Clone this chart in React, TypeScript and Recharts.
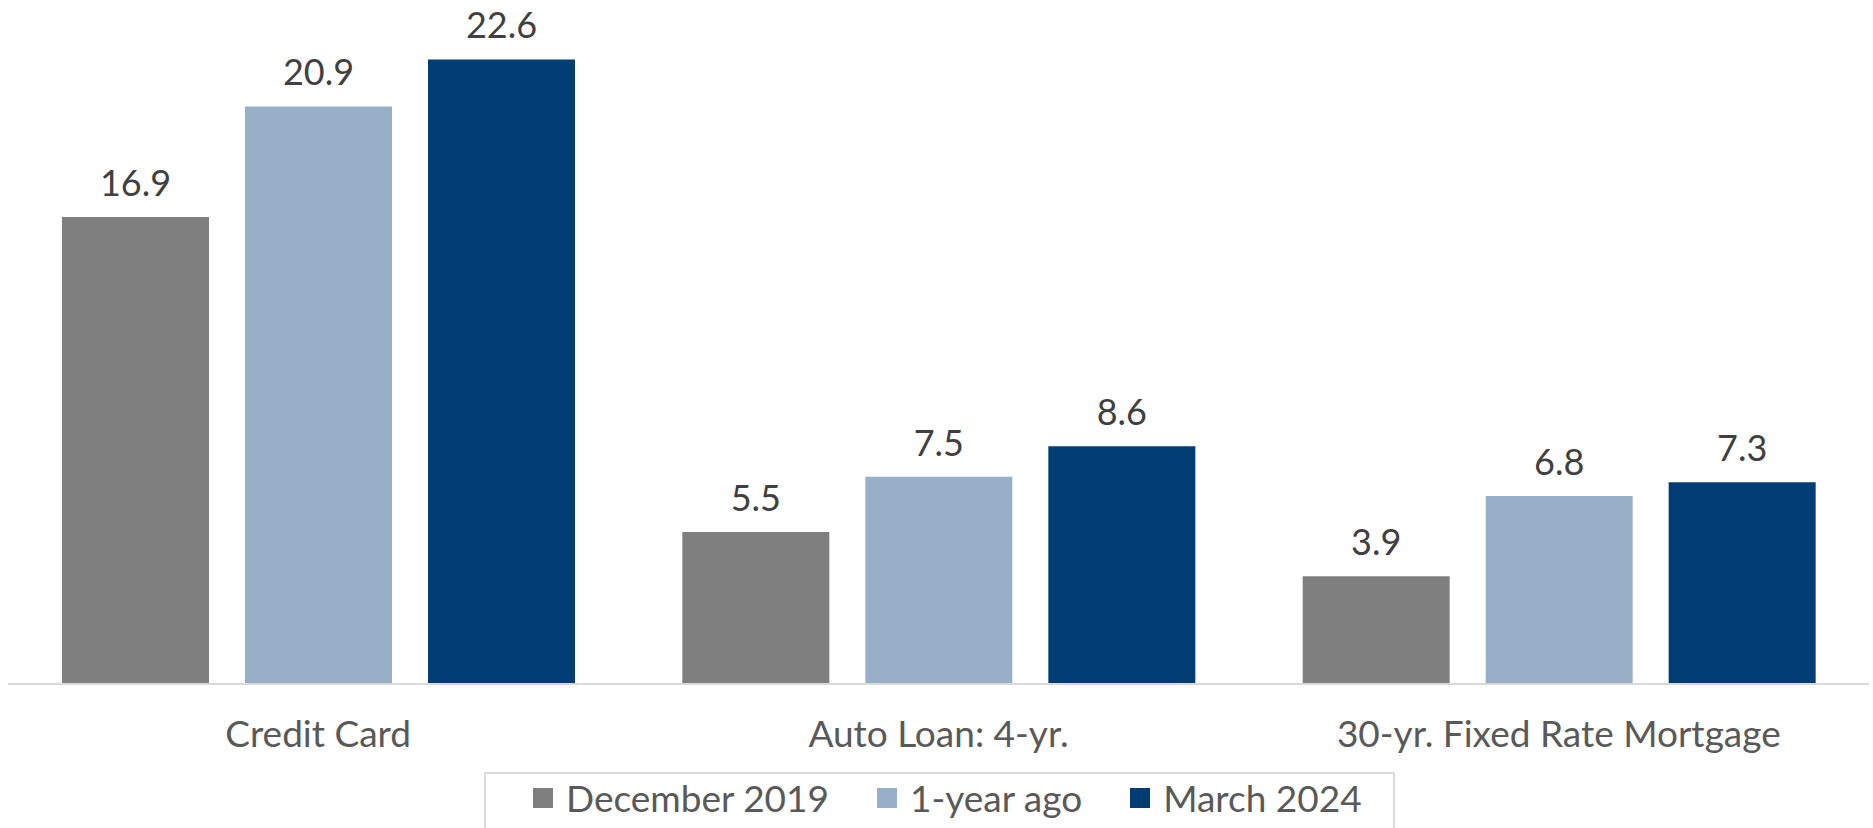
import { Bar, BarChart, LabelList, XAxis, YAxis } from "recharts";

const categories = ["Credit Card", "Auto Loan: 4-yr.", "30-yr. Fixed Rate Mortgage"];
const december2019 = [16.9, 5.5, 3.9];
const yearAgo = [20.9, 7.5, 6.8];
const march2024 = [22.6, 8.6, 7.3];

const series = [
  { key: "dec2019", name: "December 2019", color: "#7f7f7f" },
  { key: "yearAgo", name: "1-year ago", color: "#97b0c8" },
  { key: "mar2024", name: "March 2024", color: "#003d73" },
];

const data = categories.map((label, i) => ({
  label,
  dec2019: december2019[i],
  yearAgo: yearAgo[i],
  mar2024: march2024[i],
}));

const font = "Lato, 'Open Sans', sans-serif";

export default function App() {
  return (
    <div style={{ position: "absolute", left: 0, top: 0, width: 1873, height: 828, overflow: "hidden", background: "#fff", fontFamily: font }}>
      <BarChart
        width={1873}
        height={828}
        data={data}
        margin={{ top: 0, right: 4, left: 8, bottom: 0 }}
        barCategoryGap={54}
        barGap={36}
      >
        <XAxis
          dataKey="label"
          height={144}
          tickLine={false}
          tickSize={6}
          tickMargin={31}
          axisLine={{ stroke: "#d9d9d9", strokeWidth: 2 }}
          tick={{ fill: "#595959", fontSize: 37, fontFamily: font }}
          interval={0}
        />
        <YAxis hide domain={[0, 24.75]} />
        {series.map((s) => (
          <Bar key={s.key} dataKey={s.key} name={s.name} fill={s.color} isAnimationActive={false}>
            <LabelList
              dataKey={s.key}
              position="top"
              offset={21}
              formatter={(v: unknown) => Number(v).toFixed(1)}
              style={{ fill: "#404040", fontSize: 36, fontFamily: font }}
            />
          </Bar>
        ))}
      </BarChart>
      {/* legend box runs past the bottom edge, like the source */}
      <div
        style={{
          position: "absolute",
          left: 484,
          top: 772,
          width: 911,
          height: 80,
          boxSizing: "border-box",
          border: "2px solid #d9d9d9",
          paddingTop: 2,
          paddingLeft: 47,
          display: "flex",
          alignItems: "flex-start",
          gap: 48,
          lineHeight: 1.2,
          fontSize: 37,
          color: "#595959",
        }}
      >
        {series.map((s) => (
          <div key={s.key} style={{ display: "flex", alignItems: "center", gap: 13, height: 44 }}>
            <span style={{ width: 20, height: 20, background: s.color, display: "inline-block" }} />
            <span>{s.name}</span>
          </div>
        ))}
      </div>
    </div>
  );
}
